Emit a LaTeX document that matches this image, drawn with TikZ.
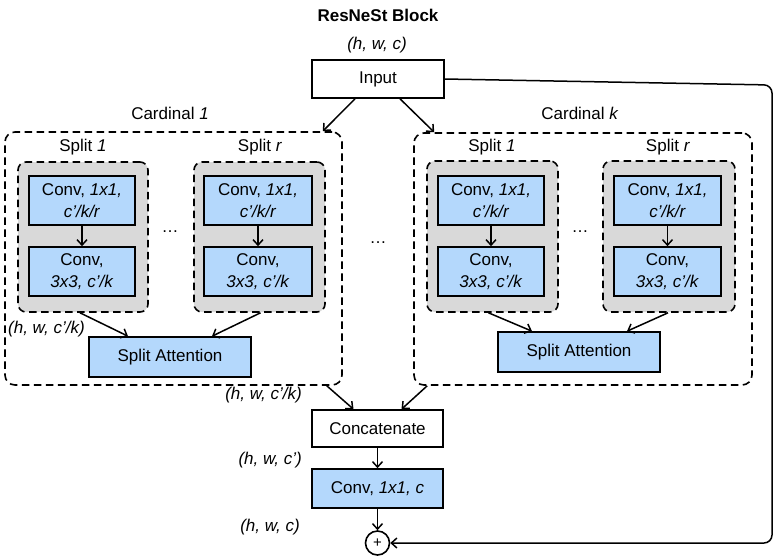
\documentclass[tikz,border=0pt]{standalone}
\usepackage{fontspec}
\setmainfont{Liberation Sans}
\usetikzlibrary{arrows.meta,calc}
\definecolor{convblue}{RGB}{180,216,252}
\definecolor{splitgray}{RGB}{217,217,217}
\tikzset{
  txt/.style={font=\fontsize{17}{21.5}\selectfont, inner sep=0pt, align=center},
  plainbox/.style={txt, draw, line width=1.6pt, fill=white},
  convbox/.style={txt, draw, line width=1.6pt, fill=convblue},
  cardbox/.style={draw, line width=1.6pt, dash pattern=on 7.5pt off 4.5pt, rounded corners=10pt},
  splitbox/.style={draw, line width=1.6pt, dash pattern=on 7.5pt off 4.5pt, rounded corners=8pt, fill=splitgray},
  arr/.style={-{Straight Barb[length=5.5pt,width=10pt]}, line width=1.5pt},
  lbl/.style={txt, font=\fontsize{17}{21.5}\selectfont\itshape}
}
\begin{document}
\begin{tikzpicture}[x=1pt,y=-1pt]
\useasboundingbox (0,0) rectangle (778,558);
% title
\node[txt, font=\fontsize{17}{21.5}\selectfont\bfseries] (title) at (378,15) {ResNeSt Block};
\node[lbl] (dimin) at (377,45) {(h, w, c)};
\node[plainbox, minimum width=132pt, minimum height=38pt] (inp) at (378,79) {Input};

% cardinal boxes
\node[cardbox, minimum width=337pt, minimum height=253pt] (c1) at (173.5,258.5) {};
\node[cardbox, minimum width=338pt, minimum height=252pt] (ck) at (583,259) {};
\node[txt] (c1lbl) at (170,113) {Cardinal \textit{1}};
\node[txt] (cklbl) at (580,113) {Cardinal \textit{k}};

% split boxes cardinal 1
\node[splitbox, minimum width=130pt, minimum height=150pt] (g11) at (83,237) {};
\node[splitbox, minimum width=131pt, minimum height=150pt] (g1r) at (259.5,237) {};
\node[txt] (s11) at (83,147) {Split \textit{1}};
\node[txt] (s1r) at (260,147) {Split \textit{r}};
\node[convbox, minimum width=106pt, minimum height=49pt] (a11) at (82,200.5) {Conv, \textit{1x1,}\\\textit{c’/k/r}};
\node[convbox, minimum width=106pt, minimum height=49pt] (b11) at (82,271.5) {Conv,\\\textit{3x3, c’/k}};
\node[convbox, minimum width=108pt, minimum height=49pt] (a1r) at (258,200.5) {Conv, \textit{1x1,}\\\textit{c’/k/r}};
\node[convbox, minimum width=108pt, minimum height=49pt] (b1r) at (258,271.5) {Conv,\\\textit{3x3, c’/k}};
\node[txt] (d1) at (170,232) {…};
\node[convbox, minimum width=162pt, minimum height=40pt] (sa1) at (170,357) {Split Attention};
\node[lbl, anchor=west] (lab1) at (8,329) {(h, w, c’/k)};

% split boxes cardinal k
\node[splitbox, minimum width=131pt, minimum height=151pt] (gk1) at (492.5,236.5) {};
\node[splitbox, minimum width=132pt, minimum height=151pt] (gkr) at (669,236.5) {};
\node[txt] (sk1) at (492,147) {Split \textit{1}};
\node[txt] (skr) at (668,147) {Split \textit{r}};
\node[convbox, minimum width=106pt, minimum height=49pt] (ak1) at (491,200.5) {Conv, \textit{1x1,}\\\textit{c’/k/r}};
\node[convbox, minimum width=106pt, minimum height=49pt] (bk1) at (491,271.5) {Conv,\\\textit{3x3, c’/k}};
\node[convbox, minimum width=107pt, minimum height=49pt] (akr) at (667.5,200.5) {Conv, \textit{1x1,}\\\textit{c’/k/r}};
\node[convbox, minimum width=107pt, minimum height=49pt] (bkr) at (667.5,271.5) {Conv,\\\textit{3x3, c’/k}};
\node[txt] (dk) at (580,232) {…};
\node[convbox, minimum width=162pt, minimum height=40pt] (sak) at (579,352) {Split Attention};

\node[txt] (dmid) at (378,243) {…};

% bottom part
\node[plainbox, minimum width=131pt, minimum height=37pt] (cat) at (377.5,428.5) {Concatenate};
\node[convbox, minimum width=131pt, minimum height=39pt] (cv) at (377.5,488.5) {Conv, \textit{1x1, c}};
\node[draw, circle, line width=1.6pt, minimum size=24pt, inner sep=0pt, fill=white] (plus) at (377.5,543) {};
\node[txt, font=\fontsize{15}{17}\selectfont] (plustxt) at (377.5,543.5) {+};
\node[lbl, anchor=east] (lab2) at (302,395) {(h, w, c’/k)};
\node[lbl, anchor=east] (lab3) at (302,460) {(h, w, c’)};
\node[lbl, anchor=east] (lab4) at (300,527) {(h, w, c)};

% arrows
\draw[arr] (a11) -- (b11);
\draw[arr] (a1r) -- (b1r);
\draw[arr] (ak1) -- (bk1);
\draw[arr] (akr) -- (bkr);
\draw[arr] ($(g11.south)+(-3,0)$) -- ($(sa1.north)+(-42,0)$);
\draw[arr] ($(g1r.south)+(1,0)$) -- ($(sa1.north)+(42,0)$);
\draw[arr] ($(gk1.south)+(-4,0)$) -- ($(sak.north)+(-47,0)$);
\draw[arr] ($(gkr.south)+(-1,0)$) -- ($(sak.north)+(48,0)$);
\draw[arr] ($(inp.south)+(-23,0)$) -- ($(c1.north east)+(-20,0)$);
\draw[arr] ($(inp.south)+(22,0)$) -- ($(ck.north west)+(21,0)$);
\draw[arr] ($(c1.south east)+(-16,0)$) -- ($(cat.north)+(-24,0)$);
\draw[arr] ($(ck.south west)+(14,0)$) -- ($(cat.north)+(24,0)$);
\draw[arr] (cat) -- (cv);
\draw[arr] (cv) -- (plus);
\coordinate (rtop) at (772,85);
\coordinate (rbot) at (772,543);
\draw[arr, rounded corners=8pt] (inp.east) -- (rtop) -- (rbot) -- (plus.east);
\end{tikzpicture}
\end{document}
